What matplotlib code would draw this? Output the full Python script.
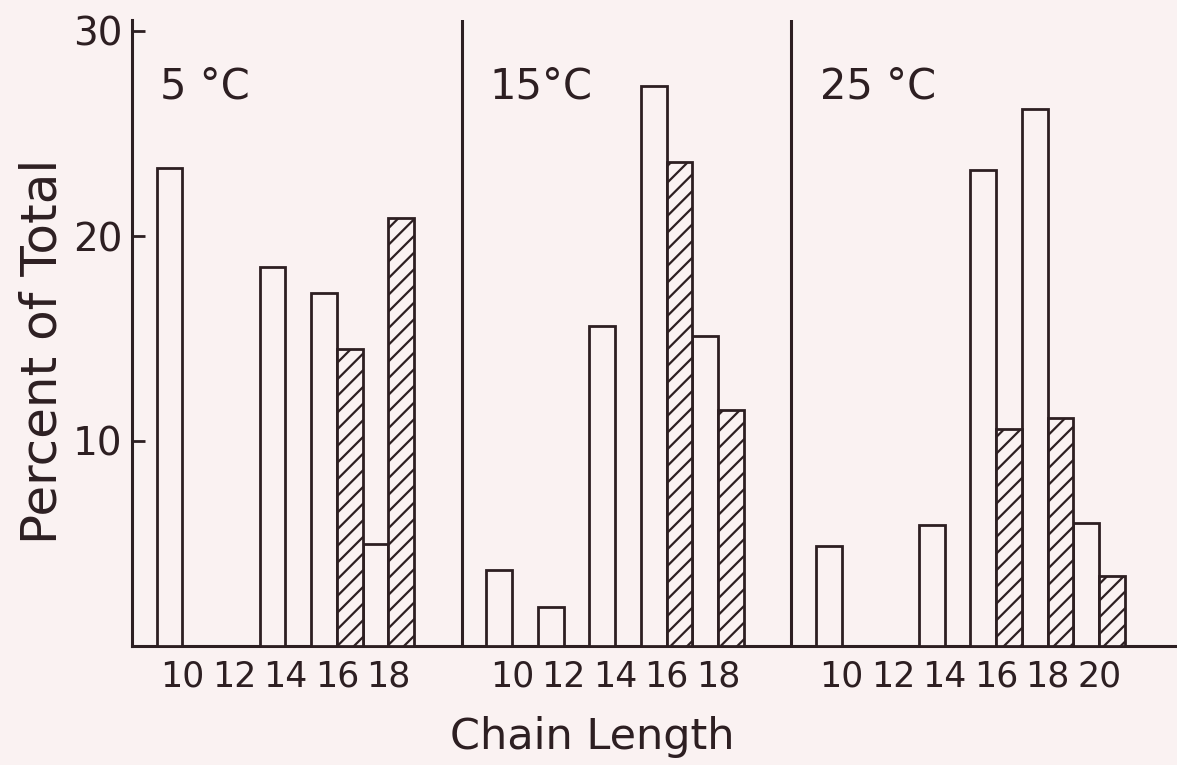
"""Fatty acid chain length distribution at three temperatures (scanned-figure style)."""

import matplotlib

matplotlib.use("Agg")
import matplotlib.pyplot as plt
import numpy as np
from matplotlib import font_manager

# --- data -----------------------------------------------------------------
panel_labels = ["5 °C", "15°C", "25 °C"]
chain_lengths = [10, 12, 14, 16, 18, 20]

open_5c = [23.3, np.nan, 18.5, 17.2, 5.0]
hatched_5c = [np.nan, np.nan, np.nan, 14.5, 20.9]

open_15c = [3.7, 1.9, 15.6, 27.3, 15.1]
hatched_15c = [np.nan, np.nan, np.nan, 23.6, 11.5]

open_25c = [4.9, np.nan, 5.9, 23.2, 26.2, 6.0]
hatched_25c = [np.nan, np.nan, np.nan, 10.6, 11.1, 3.4]

y_ticks = [10, 20, 30]

panels = [
    (open_5c, hatched_5c),
    (open_15c, hatched_15c),
    (open_25c, hatched_25c),
]

# --- style -----------------------------------------------------------------
paper = "#faf2f2"
ink = "#2d1f22"


def pick_font(name, fallback):
    try:
        font_manager.findfont(name, fallback_to_default=False)
        return name
    except ValueError:
        return fallback


narrow = pick_font("Liberation Sans Narrow", "DejaVu Sans")
narrow_size = 30 if narrow != "DejaVu Sans" else 25

plt.rcParams["font.family"] = ["DejaVu Sans"]
plt.rcParams["hatch.linewidth"] = 1.6
plt.rcParams["hatch.color"] = ink

fig = plt.figure(figsize=(11.77, 7.65), dpi=100, facecolor=paper)
ax = fig.add_axes([132 / 1177, 1 - 646 / 765, 1 - 132 / 1177, 626 / 765])
ax.set_facecolor(paper)

panel_width = 6.4
first_slot = 0.48
bar_width = 0.5

tick_pos = []
tick_txt = []
for i, (opens, hatched) in enumerate(panels):
    origin = i * panel_width
    n = len(opens)
    lengths = np.array(chain_lengths[:n])
    slot = origin + first_slot + (lengths - 10) / 2
    o = np.array(opens, dtype=float)
    h = np.array(hatched, dtype=float)
    mo = ~np.isnan(o)
    mh = ~np.isnan(h)
    ax.bar(slot[mo], o[mo], width=bar_width, align="edge",
           facecolor=paper, edgecolor=ink, linewidth=2.0, zorder=3)
    ax.bar(slot[mh] + bar_width, h[mh], width=bar_width, align="edge",
           facecolor=paper, edgecolor=ink, linewidth=2.0, hatch="//", zorder=3)
    tick_pos.extend(slot + bar_width)
    tick_txt.extend(str(c) for c in lengths)
    if i > 0:
        ax.axvline(origin, ymin=0, ymax=1, color=ink, linewidth=2.2, zorder=2)
    ax.text(origin + 0.55, 27.3, panel_labels[i], fontsize=30, color=ink,
            ha="left", va="center")

ax.set_xlim(0, (1177 - 132) / 51.5)
ax.set_ylim(0, 626 / 20.5)

for side in ["top", "right"]:
    ax.spines[side].set_visible(False)
for side in ["left", "bottom"]:
    ax.spines[side].set_color(ink)
    ax.spines[side].set_linewidth(2.2)

ax.set_yticks(y_ticks)
ax.set_yticklabels([str(t) for t in y_ticks], fontsize=28, color=ink)
ax.tick_params(axis="y", direction="in", length=9, width=2, color=ink, pad=7)

ax.set_xticks(tick_pos)
ax.set_xticklabels(tick_txt, fontsize=narrow_size, color=ink, family=[narrow, "DejaVu Sans"])
ax.tick_params(axis="x", length=0, pad=10)

ax.set_ylabel("Percent of Total", fontsize=36, color=ink)
ax.yaxis.label.set_va("center")
ax.yaxis.set_label_coords(-0.086, 0.47)
ax.set_xlabel("Chain Length", fontsize=31, color=ink)
ax.xaxis.label.set_va("center")
ax.xaxis.set_label_coords(0.44, -0.145)

fig.savefig("out.png", dpi=100, facecolor=paper)
